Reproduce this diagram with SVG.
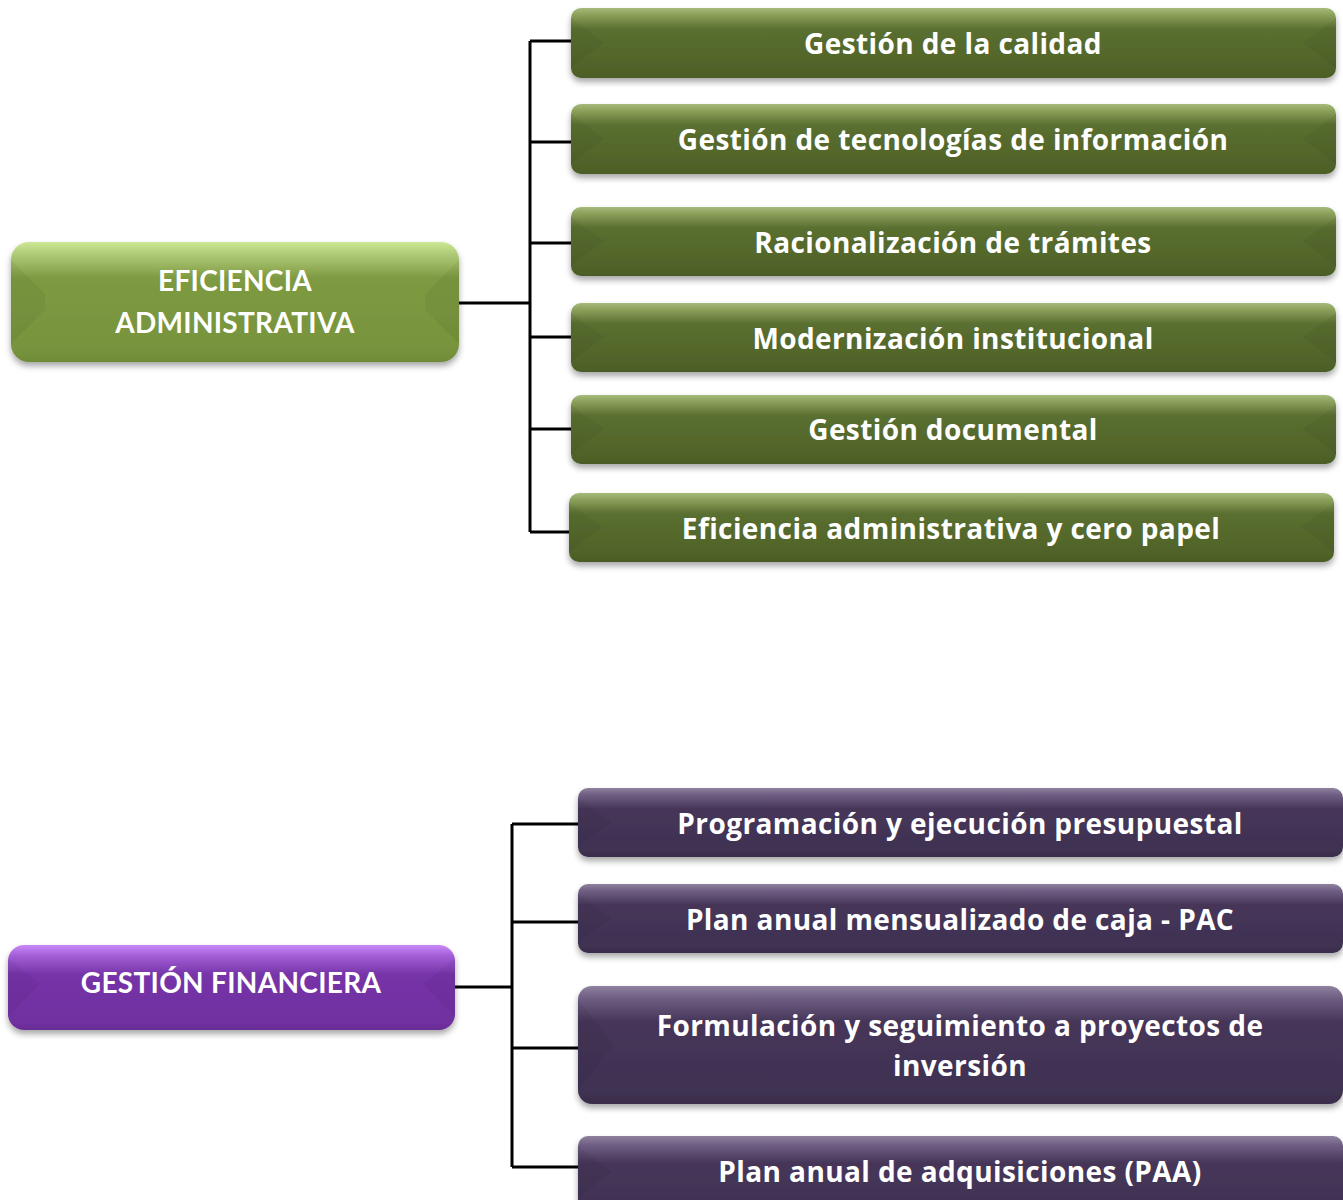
<svg xmlns="http://www.w3.org/2000/svg" width="1343" height="1200" viewBox="0 0 1343 1200">
<defs>
<linearGradient id="gDark" x1="0" y1="0" x2="0" y2="1">
<stop offset="0" stop-color="#a6ba7a"/>
<stop offset="0.1" stop-color="#8aa05a"/>
<stop offset="0.3" stop-color="#5a6f30"/>
<stop offset="0.9" stop-color="#4f6228"/>
<stop offset="1" stop-color="#4a5c25"/>
</linearGradient>
<linearGradient id="gLight" x1="0" y1="0" x2="0" y2="1">
<stop offset="0" stop-color="#cde894"/>
<stop offset="0.1" stop-color="#b0cb78"/>
<stop offset="0.3" stop-color="#7e9a42"/>
<stop offset="0.9" stop-color="#77933c"/>
<stop offset="1" stop-color="#708b38"/>
</linearGradient>
<linearGradient id="pDark" x1="0" y1="0" x2="0" y2="1">
<stop offset="0" stop-color="#8f819f"/>
<stop offset="0.1" stop-color="#6f5f83"/>
<stop offset="0.3" stop-color="#463659"/>
<stop offset="0.9" stop-color="#3f3151"/>
<stop offset="1" stop-color="#3a2d4b"/>
</linearGradient>
<linearGradient id="pLight" x1="0" y1="0" x2="0" y2="1">
<stop offset="0" stop-color="#c88af8"/>
<stop offset="0.12" stop-color="#a45fd8"/>
<stop offset="0.35" stop-color="#7634a8"/>
<stop offset="0.9" stop-color="#7030a0"/>
<stop offset="1" stop-color="#692d96"/>
</linearGradient>
<filter id="sh" x="-5%" y="-20%" width="110%" height="150%">
<feDropShadow dx="0" dy="4" stdDeviation="3" flood-color="#000" flood-opacity="0.35"/>
</filter>
<style>
.t{font-family:"Open Sans","Lato","DejaVu Sans",sans-serif;font-weight:bold;font-size:28px;fill:#fff;text-anchor:middle;letter-spacing:0.4px}
.p{font-family:"Lato","Open Sans","DejaVu Sans",sans-serif;font-weight:bold;font-size:28px;fill:#fff;text-anchor:middle;letter-spacing:0.3px}
.c{stroke:#000;stroke-width:3;fill:none}
.bv{fill:#000;opacity:0.045}
</style>
</defs>

<g id="connectors">
<path class="c" d="M456 303H530M530 41V532M530 41H571M530 142H571M530 243H571M530 337H571M530 429H571M530 532H569"/>
<path class="c" d="M455 987H512M512 824V1167M512 824H578M512 922H578M512 1048H578M512 1167H578"/>
</g>

<g id="n-eficiencia">
<rect x="11" y="242" width="448" height="120" rx="18" fill="url(#gLight)" filter="url(#sh)"/>
<path class="bv" d="M11 260L45 294V310L11 344Z"/><path class="bv" d="M459 260L425 294V310L459 344Z"/>
<text class="p" x="235" y="291">EFICIENCIA</text>
<text class="p" x="235" y="333">ADMINISTRATIVA</text>
</g>

<g id="n-calidad">
<rect x="571" y="8" width="765" height="70" rx="10" fill="url(#gDark)" filter="url(#sh)"/>
<path class="bv" d="M571 18L604 43L571 68Z"/><path class="bv" d="M1336 18L1303 43L1336 68Z"/>
<text class="t" x="953" y="54">Gestión de la calidad</text>
</g>
<g id="n-tecnologias">
<rect x="571" y="104" width="765" height="70" rx="10" fill="url(#gDark)" filter="url(#sh)"/>
<path class="bv" d="M571 114L604 139L571 164Z"/><path class="bv" d="M1336 114L1303 139L1336 164Z"/>
<text class="t" x="953" y="150">Gestión de tecnologías de información</text>
</g>
<g id="n-racionalizacion">
<rect x="571" y="207" width="765" height="69" rx="10" fill="url(#gDark)" filter="url(#sh)"/>
<path class="bv" d="M571 217L604 241L571 266Z"/><path class="bv" d="M1336 217L1303 241L1336 266Z"/>
<text class="t" x="953" y="253">Racionalización de trámites</text>
</g>
<g id="n-modernizacion">
<rect x="571" y="303" width="765" height="69" rx="10" fill="url(#gDark)" filter="url(#sh)"/>
<path class="bv" d="M571 313L604 337L571 362Z"/><path class="bv" d="M1336 313L1303 337L1336 362Z"/>
<text class="t" x="953" y="349">Modernización institucional</text>
</g>
<g id="n-documental">
<rect x="571" y="395" width="765" height="69" rx="10" fill="url(#gDark)" filter="url(#sh)"/>
<path class="bv" d="M571 405L604 429L571 454Z"/><path class="bv" d="M1336 405L1303 429L1336 454Z"/>
<text class="t" x="953" y="440">Gestión documental</text>
</g>
<g id="n-ceropapel">
<rect x="569" y="493" width="765" height="69" rx="10" fill="url(#gDark)" filter="url(#sh)"/>
<path class="bv" d="M569 503L602 527L569 552Z"/><path class="bv" d="M1334 503L1301 527L1334 552Z"/>
<text class="t" x="951" y="539">Eficiencia administrativa y cero papel</text>
</g>

<g id="n-financiera">
<rect x="8" y="945" width="447" height="85" rx="16" fill="url(#pLight)" filter="url(#sh)"/>
<path class="bv" d="M8 958L40 984L8 1017Z"/><path class="bv" d="M455 958L423 984L455 1017Z"/>
<text class="p" x="231" y="993">GESTIÓN FINANCIERA</text>
</g>

<g id="n-presupuestal">
<rect x="578" y="788" width="765" height="69" rx="10" fill="url(#pDark)" filter="url(#sh)"/>
<path class="bv" d="M578 798L611 822L578 847Z"/>
<text class="t" x="960" y="834">Programación y ejecución presupuestal</text>
</g>
<g id="n-pac">
<rect x="578" y="884" width="765" height="69" rx="10" fill="url(#pDark)" filter="url(#sh)"/>
<path class="bv" d="M578 894L611 918L578 943Z"/>
<text class="t" x="960" y="930">Plan anual mensualizado de caja - PAC</text>
</g>
<g id="n-proyectos">
<rect x="578" y="986" width="765" height="118" rx="14" fill="url(#pDark)" filter="url(#sh)"/>
<path class="bv" d="M578 1000L614 1045L578 1090Z"/>
<text class="t" x="960" y="1036">Formulación y seguimiento a proyectos de</text>
<text class="t" x="960" y="1076">inversión</text>
</g>
<g id="n-paa">
<rect x="578" y="1136" width="765" height="90" rx="10" fill="url(#pDark)" filter="url(#sh)"/>
<path class="bv" d="M578 1146L611 1172L578 1198Z"/>
<text class="t" x="960" y="1182">Plan anual de adquisiciones (PAA)</text>
</g>
</svg>
